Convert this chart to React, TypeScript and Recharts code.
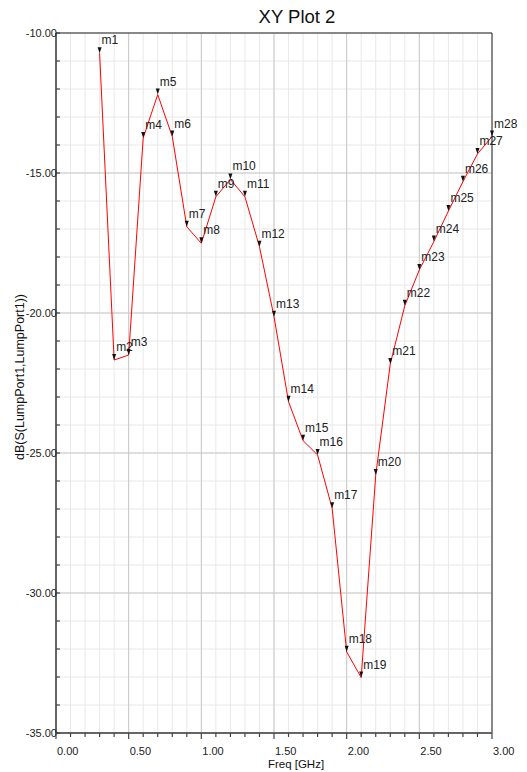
import { CartesianGrid, Line, LineChart, ReferenceLine, XAxis, YAxis } from "recharts";

const markerNames = [
  "m1", "m2", "m3", "m4", "m5", "m6", "m7", "m8", "m9", "m10",
  "m11", "m12", "m13", "m14", "m15", "m16", "m17", "m18", "m19", "m20",
  "m21", "m22", "m23", "m24", "m25", "m26", "m27", "m28",
];
const freqGHz = [
  0.3, 0.4, 0.5, 0.6, 0.7, 0.8, 0.9, 1.0, 1.1, 1.2,
  1.3, 1.4, 1.5, 1.6, 1.7, 1.8, 1.9, 2.0, 2.1, 2.2,
  2.3, 2.4, 2.5, 2.6, 2.7, 2.8, 2.9, 3.0,
];
const s11dB = [
  -10.72, -21.68, -21.5, -13.75, -12.2, -13.7, -16.92, -17.51, -15.85, -15.23,
  -15.85, -17.63, -20.13, -23.17, -24.56, -25.07, -26.97, -32.1, -33.02, -25.79,
  -21.82, -19.74, -18.46, -17.45, -16.36, -15.31, -14.32, -13.7,
];

const xMajor = [0, 0.5, 1, 1.5, 2, 2.5, 3];
const xMinor = [
  0, 0.1, 0.2, 0.3, 0.4, 0.5, 0.6, 0.7, 0.8, 0.9, 1, 1.1, 1.2, 1.3, 1.4, 1.5,
  1.6, 1.7, 1.8, 1.9, 2, 2.1, 2.2, 2.3, 2.4, 2.5, 2.6, 2.7, 2.8, 2.9, 3,
];
const yMajor = [-35, -30, -25, -20, -15, -10];
const yMinor = [
  -35, -34, -33, -32, -31, -30, -29, -28, -27, -26, -25, -24, -23, -22, -21,
  -20, -19, -18, -17, -16, -15, -14, -13, -12, -11, -10,
];

const data = freqGHz.map((f, i) => ({ freq: f, db: s11dB[i], name: markerNames[i] }));

const FONT = '"Liberation Sans", Arial, sans-serif';

const isMajor = (v: number, step: number) => Math.abs(v / step - Math.round(v / step)) < 1e-6;

const XTick = (props: any) => {
  const { x, y, payload } = props;
  const v = payload.value as number;
  const major = isMajor(v, 0.5);
  return (
    <g>
      <line x1={x} y1={y} x2={x} y2={y + (major ? 6 : 4)} stroke="#444" strokeWidth={1.2} />
      {major && (
        <text x={x + 1} y={y + 22} textAnchor="start" fontSize={11} fill="#222" fontFamily={FONT}>
          {v.toFixed(2)}
        </text>
      )}
    </g>
  );
};

const YTick = (props: any) => {
  const { x, y, payload } = props;
  const v = payload.value as number;
  const major = isMajor(v, 5);
  return (
    <g>
      <line x1={x} y1={y} x2={x + 4} y2={y} stroke="#444" strokeWidth={1.2} />
      {major && (
        <text x={x + 1} y={y + 4} textAnchor="end" fontSize={11} fill="#222" fontFamily={FONT}>
          {v.toFixed(2)}
        </text>
      )}
    </g>
  );
};

const MarkerDot = (props: any) => {
  const { cx, cy, payload, index } = props;
  if (cx == null || cy == null) return <g key={index} />;
  return (
    <g key={index}>
      <polygon points={`${cx - 2},${cy - 6} ${cx + 2},${cy - 6} ${cx},${cy}`} fill="#111" />
      <text x={cx + 2} y={cy - 9} fontSize={12} fill="#222" fontFamily={FONT}>
        {payload.name}
      </text>
    </g>
  );
};

export default function App() {
  return (
    <div style={{ position: "absolute", left: 0, top: 0, width: 527, height: 772, background: "#fff" }}>
      <LineChart
        width={527}
        height={772}
        data={data}
        margin={{ top: 33, right: 35, left: 0, bottom: 0 }}
      >
        <CartesianGrid horizontalValues={yMinor} verticalValues={xMinor} stroke="#e8e8e8" strokeWidth={1} />
        <CartesianGrid horizontalValues={yMajor} verticalValues={xMajor} stroke="#c9c9c9" strokeWidth={1} />
        <XAxis
          dataKey="freq"
          type="number"
          domain={[0, 3]}
          ticks={xMinor}
          interval={0}
          height={39}
          tickSize={0}
          tickMargin={0}
          tickLine={false}
          tick={<XTick />}
          axisLine={{ stroke: "#666", strokeWidth: 2 }}
        />
        <YAxis
          type="number"
          domain={[-35, -10]}
          ticks={yMinor}
          interval={0}
          width={56}
          tickSize={0}
          tickMargin={0}
          tickLine={false}
          tick={<YTick />}
          axisLine={{ stroke: "#666", strokeWidth: 2 }}
        />
        <ReferenceLine y={-10} stroke="#333" strokeWidth={1} />
        <ReferenceLine x={3} stroke="#333" strokeWidth={1} />
        <Line
          type="linear"
          dataKey="db"
          stroke="#ff0000"
          strokeWidth={1}
          dot={(p: any) => <MarkerDot {...p} />}
          activeDot={false}
          isAnimationActive={false}
        />
      </LineChart>
      <svg
        width={527}
        height={772}
        style={{ position: "absolute", left: 0, top: 0, pointerEvents: "none" }}
      >
        <text x={297} y={23} textAnchor="middle" fontSize={18.5} fill="#111" fontFamily={FONT}>
          XY Plot 2
        </text>
        <text x={296} y={768} textAnchor="middle" fontSize={11.5} fill="#111" fontFamily={FONT}>
          Freq [GHz]
        </text>
        <text
          x={0}
          y={0}
          transform="translate(24 377) rotate(-90)"
          textAnchor="middle"
          fontSize={12.5}
          fill="#111"
          fontFamily={FONT}
        >
          dB(S(LumpPort1,LumpPort1))
        </text>
      </svg>
    </div>
  );
}
